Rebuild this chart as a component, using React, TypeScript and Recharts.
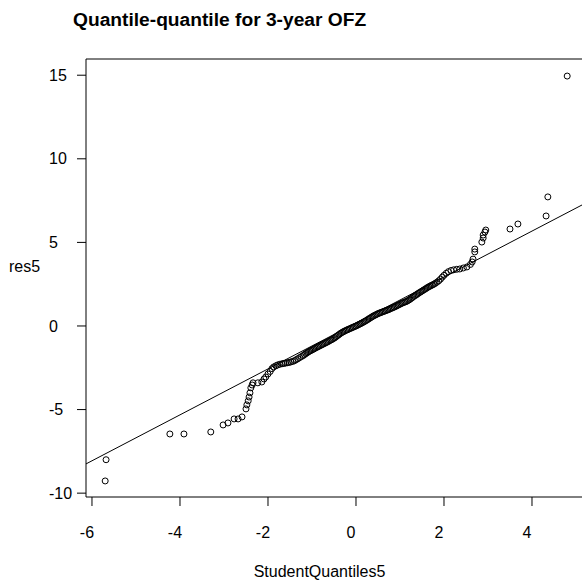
import {
  ScatterChart,
  Scatter,
  XAxis,
  YAxis,
  ReferenceLine,
  ReferenceArea,
} from 'recharts'

// theoretical quantiles (Student) and residuals
const QUANTILES = [
  -5.70, -5.68, -4.23, -3.91, -3.30, -3.02, -2.91, -2.77, -2.68, -2.59,
  -2.50, -2.48, -2.45, -2.43, -2.41, -2.39, -2.36, -2.34, -2.23, -2.14,
  -2.09, -2.05, -2.00, -1.95, -1.91, -1.87, -1.82, -1.78, -1.73, -1.68,
  -1.64, -1.60, -1.56, -1.52, -1.48, -1.44, -1.40, -1.36, -1.32, -1.28,
  -1.24, -1.20, -1.17, -1.14, -1.11, -1.08, -1.05, -1.02, -0.99, -0.96,
  -0.93, -0.90, -0.87, -0.84, -0.81, -0.78, -0.75, -0.72, -0.69, -0.66,
  -0.63, -0.60, -0.57, -0.54, -0.51, -0.48, -0.45, -0.42, -0.39, -0.36,
  -0.33, -0.30, -0.27, -0.24, -0.21, -0.18, -0.15, -0.12, -0.09, -0.06,
  -0.03, 0.00, 0.03, 0.06, 0.09, 0.12, 0.15, 0.18, 0.21, 0.24,
  0.27, 0.30, 0.33, 0.36, 0.39, 0.42, 0.45, 0.48, 0.51, 0.54,
  0.57, 0.60, 0.63, 0.66, 0.69, 0.72, 0.75, 0.78, 0.81, 0.84,
  0.87, 0.90, 0.93, 0.96, 0.99, 1.02, 1.05, 1.08, 1.11, 1.14,
  1.17, 1.20, 1.23, 1.26, 1.29, 1.32, 1.35, 1.38, 1.41, 1.44,
  1.47, 1.50, 1.53, 1.56, 1.59, 1.62, 1.65, 1.68, 1.71, 1.74,
  1.77, 1.80, 1.84, 1.88, 1.92, 1.96, 2.00, 2.05, 2.10, 2.16,
  2.22, 2.29, 2.36, 2.44, 2.52, 2.60, 2.64, 2.66, 2.70, 2.70,
  2.86, 2.89, 2.89, 2.93, 2.95, 3.50, 3.68, 4.32, 4.36, 4.80,
]
const RESIDUALS = [
  -9.27, -8.00, -6.46, -6.46, -6.34, -5.92, -5.80, -5.56, -5.56, -5.44,
  -4.96, -4.72, -4.48, -4.25, -4.00, -3.70, -3.53, -3.40, -3.40, -3.35,
  -3.17, -3.05, -2.87, -2.72, -2.55, -2.45, -2.38, -2.33, -2.29, -2.26,
  -2.24, -2.22, -2.20, -2.18, -2.15, -2.12, -2.08, -2.02, -1.96, -1.89,
  -1.83, -1.77, -1.71, -1.65, -1.60, -1.55, -1.50, -1.46, -1.42, -1.38,
  -1.33, -1.29, -1.25, -1.21, -1.17, -1.13, -1.09, -1.05, -1.01, -0.97,
  -0.93, -0.88, -0.84, -0.80, -0.75, -0.70, -0.64, -0.58, -0.52, -0.46,
  -0.41, -0.36, -0.32, -0.28, -0.24, -0.21, -0.17, -0.14, -0.10, -0.07,
  -0.03, 0.00, 0.04, 0.08, 0.12, 0.16, 0.20, 0.25, 0.29, 0.34,
  0.39, 0.44, 0.49, 0.54, 0.59, 0.63, 0.67, 0.71, 0.75, 0.78,
  0.81, 0.84, 0.87, 0.90, 0.93, 0.96, 0.99, 1.03, 1.06, 1.10,
  1.13, 1.17, 1.21, 1.25, 1.29, 1.33, 1.37, 1.40, 1.43, 1.46,
  1.50, 1.55, 1.60, 1.66, 1.72, 1.78, 1.83, 1.88, 1.94, 1.99,
  2.04, 2.09, 2.14, 2.19, 2.24, 2.29, 2.34, 2.38, 2.42, 2.46,
  2.50, 2.55, 2.62, 2.70, 2.80, 2.92, 3.03, 3.15, 3.25, 3.32,
  3.36, 3.39, 3.41, 3.47, 3.53, 3.68, 3.83, 4.00, 4.43, 4.60,
  5.02, 5.26, 5.44, 5.62, 5.74, 5.80, 6.10, 6.58, 7.72, 14.95,
]

const X_TICKS = [-6, -4, -2, 0, 2, 4]
const Y_TICKS = [-10, -5, 0, 5, 10, 15]

// qqline
const LINE_INTERCEPT = 0.18
const LINE_SLOPE = 1.374

const X_MIN = -6.136
const X_MAX = 5.2
const Y_MIN = -10.23
const Y_MAX = 15.97

const points = QUANTILES.map((x, i) => ({ x, y: RESIDUALS[i] }))

const FONT = '"Liberation Sans", Arial, sans-serif'

const Ring = (props: any) => (
  <circle cx={props.cx} cy={props.cy} r={3} fill="none" stroke="#000" strokeWidth={1} />
)

// x labels sit a little left of their ticks in the original
const XTick = (props: any) => (
  <text
    x={props.x - 5}
    y={props.y}
    dy="0.71em"
    textAnchor="middle"
    fontSize={16}
    fontFamily={FONT}
    fill="#000"
  >
    {props.payload.value}
  </text>
)

// y labels are left aligned
const YTick = (props: any) => (
  <text
    x={49}
    y={props.y}
    dy="0.355em"
    textAnchor="start"
    fontSize={16}
    fontFamily={FONT}
    fill="#000"
  >
    {props.payload.value}
  </text>
)

export default function App() {
  return (
    <div
      style={{
        position: 'fixed',
        left: 0,
        top: 0,
        width: 582,
        height: 581,
        overflow: 'hidden',
        background: '#fff',
        fontFamily: FONT,
      }}
    >
      <ScatterChart
        width={600}
        height={581}
        margin={{ top: 59, right: 15.2, bottom: 54, left: 0 }}
      >
        <XAxis
          type="number"
          dataKey="x"
          domain={[X_MIN, X_MAX]}
          allowDataOverflow
          ticks={X_TICKS}
          interval={0}
          axisLine={false}
          tickLine={{ stroke: '#000' }}
          tickSize={9}
          tickMargin={21}
          height={30}
          tick={XTick}
        />
        <YAxis
          type="number"
          dataKey="y"
          domain={[Y_MIN, Y_MAX]}
          allowDataOverflow
          ticks={Y_TICKS}
          interval={0}
          axisLine={false}
          tickLine={{ stroke: '#000' }}
          tickSize={9}
          tickMargin={7}
          width={86}
          tick={YTick}
        />
        <ReferenceArea
          x1={X_MIN}
          x2={X_MAX}
          y1={Y_MIN}
          y2={Y_MAX}
          fill="#fff"
          fillOpacity={0}
          stroke="#000"
          strokeWidth={1}
        />
        <ReferenceLine
          segment={[
            { x: X_MIN, y: LINE_INTERCEPT + LINE_SLOPE * X_MIN },
            { x: X_MAX, y: LINE_INTERCEPT + LINE_SLOPE * X_MAX },
          ]}
          stroke="#000"
          strokeWidth={1}
        />
        <Scatter data={points} shape={Ring} isAnimationActive={false} />
      </ScatterChart>
      <svg
        width={582}
        height={581}
        style={{ position: 'absolute', left: 0, top: 0, pointerEvents: 'none' }}
      >
        <text x={73} y={26} fontSize={19.2} fontWeight="bold" fontFamily={FONT} fill="#000">
          Quantile-quantile for 3-year OFZ
        </text>
        <text x={319.5} y={577} fontSize={16} fontFamily={FONT} fill="#000" textAnchor="middle">
          StudentQuantiles5
        </text>
        <text x={9} y={272} fontSize={16} fontFamily={FONT} fill="#000">
          res5
        </text>
      </svg>
    </div>
  )
}
